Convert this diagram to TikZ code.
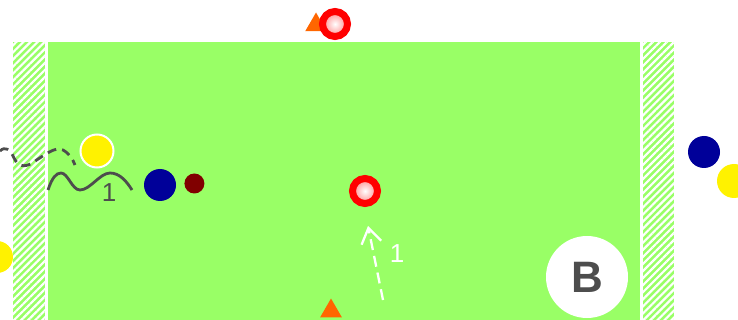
\documentclass[tikz,border=0pt]{standalone}
\usepackage{fontspec}
\setmainfont{Liberation Sans}
\usepackage{xcolor}
\usetikzlibrary{arrows.meta, positioning, shapes.geometric, patterns.meta}
\definecolor{pitch}{RGB}{153,255,102}
\definecolor{navy}{RGB}{0,0,153}
\definecolor{maroon}{RGB}{128,0,0}
\definecolor{conecol}{RGB}{255,102,0}
\definecolor{ink}{RGB}{77,77,77}

\begin{document}
\begin{tikzpicture}[
    x=1pt, y=-1pt,
    font=\fontsize{26}{26}\selectfont,
    strip/.style={preaction={fill=pitch}, pattern={Lines[angle=45, distance=5pt, line width=2.2pt]}, pattern color=white},
    ring/.style={circle, draw=red, line width=7pt, inner color=white, outer color=red!45, minimum size=25pt, inner sep=0pt},
    marker/.style={regular polygon, regular polygon sides=3, fill=conecol, minimum size=25pt, inner sep=0pt},
    player/.style={circle, minimum size=32pt, inner sep=0pt},
    ball/.style={circle, fill=maroon, minimum size=20pt, inner sep=0pt},
    run/.style={ink, line width=2.8pt},
    pass/.style={white, line width=2.3pt, dash pattern=on 11pt off 6pt, -{Straight Barb[length=15pt, width=20pt]}}
]
\useasboundingbox (0,0) rectangle (738,320);

\fill[pitch] (48,42) rectangle (640,320);
\path[strip] (13,42) rectangle (45,320);
\path[strip] (643,42) rectangle (674,320);

\node[marker] (topmark) at (316,25) {};
\node[ring] (topring) at (335,24) {};
\node[ring] (midring) at (365,191) {};
\node[marker] (botmark) at (331,311) {};

\node[player, fill=yellow, draw=white, line width=2pt, minimum size=33pt] (yellowA) at (97,151) {};
\node[player, fill=navy] (blueA) at (160,185) {};
\node[ball, right=8pt of blueA, yshift=1.5pt] (ballA) {};
\node[player, fill=navy] (blueB) at (704,152) {};
\node[player, fill=yellow, minimum size=34pt] (yellowB) at (734,181) {};
\node[player, fill=yellow] (yellowC) at (-3,257) {};

\node[circle, fill=white, minimum size=82pt, inner sep=0pt, text=ink, font=\fontsize{44}{44}\selectfont\bfseries] (team) at (587,277) {B};

\coordinate (runA) at (48,190);
\coordinate (runB) at (132,190);
\draw[run] (runA) .. controls (52,178) and (56,173) .. (61,173)
    .. controls (68,173) and (72,190) .. (80,190)
    .. controls (90,190) and (100,173) .. (110,173)
    .. controls (120,173) and (127,182) .. (runB);
\node[text=ink, inner sep=0pt] (runlbl) at (109,193) {1};

\coordinate (dribA) at (0,151);
\coordinate (dribB) at (75,165);
\draw[run, dash pattern=on 9pt off 6pt] (dribA) .. controls (5,146) and (10,149) .. (14,158)
    .. controls (18,166) and (24,168) .. (32,163)
    .. controls (45,155) and (55,146) .. (63,150)
    .. controls (70,154) and (73,160) .. (dribB);

\coordinate (passA) at (383,300);
\coordinate (passB) at (368,226);
\draw[pass] (passA) -- (passB);
\node[text=white, inner sep=0pt] (passlbl) at (397,254) {1};
\end{tikzpicture}
\end{document}
